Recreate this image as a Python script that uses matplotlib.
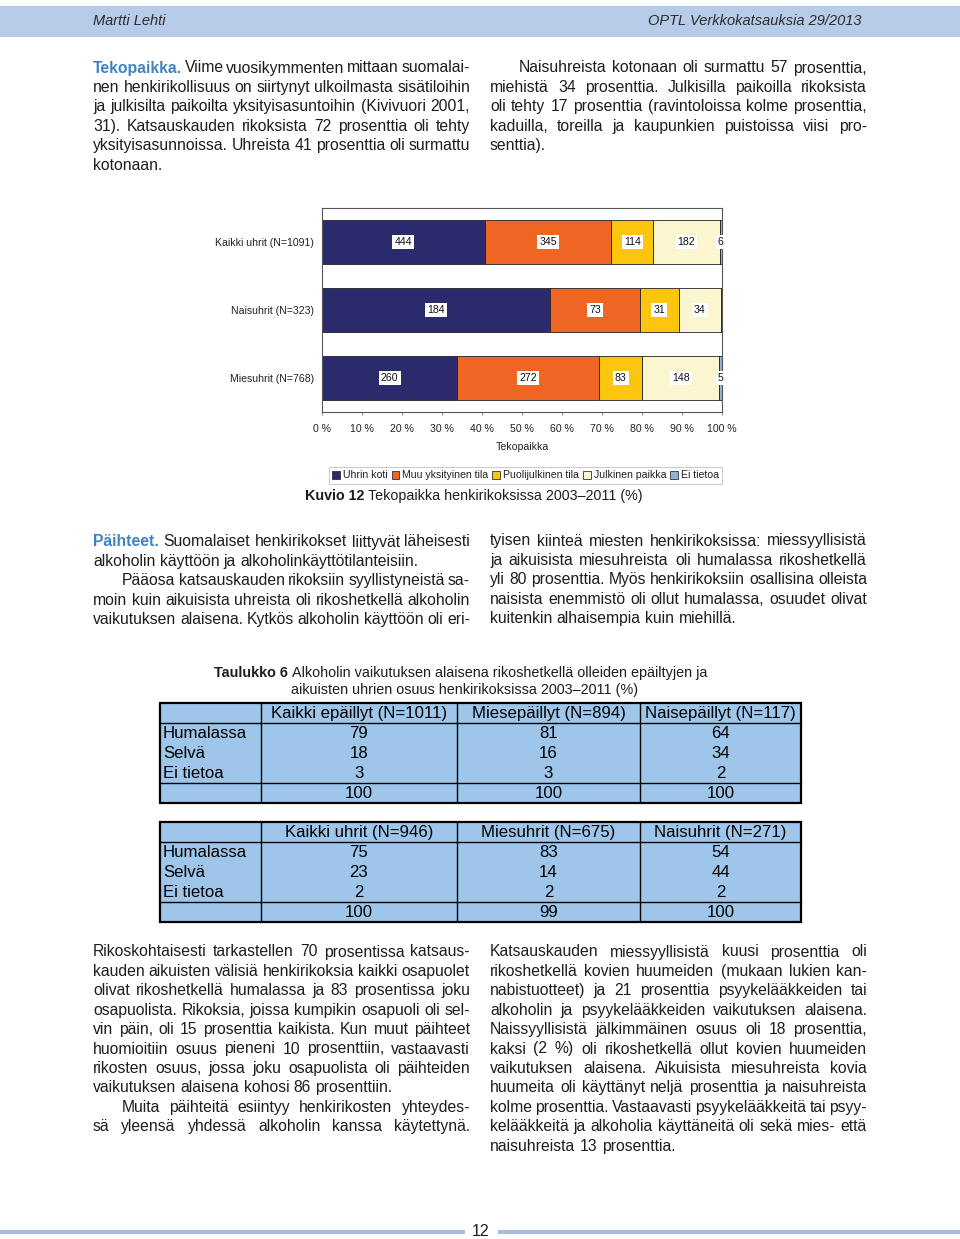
import matplotlib
matplotlib.use('Agg')
import matplotlib.pyplot as plt
import numpy as np
from matplotlib.patches import Rectangle, Patch

plt.rcParams['font.family'] = ['Liberation Sans', 'DejaVu Sans']

# ---- chart data (Kuvio 12) ----
groups = ['Kaikki uhrit (N=1091)', 'Naisuhrit (N=323)', 'Miesuhrit (N=768)']
places = ['Uhrin koti', 'Muu yksityinen tila', 'Puolijulkinen tila', 'Julkinen paikka', 'Ei tietoa']
uhrin_koti = [444, 184, 260]
muu_yksityinen = [345, 73, 272]
puolijulkinen = [114, 31, 83]
julkinen_paikka = [182, 34, 148]
ei_tietoa = [6, 1, 5]
place_colors = ['#2a2a6c', '#ef6524', '#fcc60e', '#fcf6d0', '#8fb3d9']
xticks = [0, 10, 20, 30, 40, 50, 60, 70, 80, 90, 100]

# ---- table data (Taulukko 6) ----
row_names = ['Humalassa', 'Selvä', 'Ei tietoa']
t1_cols = ['Kaikki epäillyt (N=1011)', 'Miesepäillyt (N=894)', 'Naisepäillyt (N=117)']
t1_humalassa = [79, 81, 64]
t1_selva = [18, 16, 34]
t1_ei_tietoa = [3, 3, 2]
t1_total = [100, 100, 100]
t2_cols = ['Kaikki uhrit (N=946)', 'Miesuhrit (N=675)', 'Naisuhrit (N=271)']
t2_humalassa = [75, 83, 54]
t2_selva = [23, 14, 44]
t2_ei_tietoa = [2, 2, 2]
t2_total = [100, 99, 100]

W, H = 960, 1239
TXT = '#1f1c1d'
HEAD_BLUE = '#3f83c4'

fig = plt.figure(figsize=(W / 100, H / 100), dpi=100)
page = fig.add_axes([0, 0, 1, 1])
page.set_xlim(0, W)
page.set_ylim(H, 0)
page.axis('off')
R = fig.canvas.get_renderer()


def width(t):
    return t.get_window_extent(renderer=R).width


def measure(s, **kw):
    t = page.text(0, 0, s, **kw)
    w = width(t)
    t.remove()
    return w


# header band
page.add_patch(Rectangle((0, 6), W, 31, fc='#b7cce8', ec='none'))
page.text(93, 21, 'Martti Lehti', fontsize=10.5, style='italic', color='#2b2b2b', va='center')
page.text(861, 21, 'OPTL Verkkokatsauksia 29/2013', fontsize=10.5, style='italic',
          color='#2b2b2b', va='center', ha='right')

# ---- body text, justified ----
BODY = 11.35
LEAD = 19.4
INDENT = 29
SPACE = measure('n n', fontsize=BODY) - measure('nn', fontsize=BODY)


def natural(words):
    lefts = []
    for j in range(len(words)):
        pre = measure(' '.join(words[:j + 1]), fontsize=BODY)
        lefts.append(pre - measure(words[j], fontsize=BODY))
    return lefts, measure(' '.join(words), fontsize=BODY)


def block(x0, x1, y0, paras):
    y = y0
    for lines, indent, head, last_just in paras:
        for i, line in enumerate(lines):
            words = line.split(' ')
            start = x0 + (INDENT if indent and i == 0 else 0)
            hw = 0
            if head and i == 0:
                ht = page.text(start, y, words[0], fontsize=BODY, weight='bold',
                               color=HEAD_BLUE, va='center', ha='left')
                hw = width(ht) + SPACE
                words = words[1:]
            lefts, total = natural(words)
            n_gaps = len(words) - 1 + (1 if hw else 0)
            ragged = (i == len(lines) - 1 and not last_just) or n_gaps < 1
            extra = 0 if ragged else (x1 - start - hw - total) / n_gaps
            k0 = 1 if hw else 0
            for j, wd in enumerate(words):
                page.text(start + hw + lefts[j] + (j + k0) * extra, y, wd, fontsize=BODY,
                          color=TXT, va='center', ha='left')
            y += LEAD


LX0, LX1, RX0, RX1 = 93, 470, 490, 867

block(LX0, LX1, 68, [
    (['Tekopaikka. Viime vuosikymmenten mittaan suomalai-',
      'nen henkirikollisuus on siirtynyt ulkoilmasta sisätiloihin',
      'ja julkisilta paikoilta yksityisasuntoihin (Kivivuori 2001,',
      '31). Katsauskauden rikoksista 72 prosenttia oli tehty',
      'yksityisasunnoissa. Uhreista 41 prosenttia oli surmattu',
      'kotonaan.'], False, True, False)])
block(RX0, RX1, 68, [
    (['Naisuhreista kotonaan oli surmattu 57 prosenttia,',
      'miehistä 34 prosenttia. Julkisilla paikoilla rikoksista',
      'oli tehty 17 prosenttia (ravintoloissa kolme prosenttia,',
      'kaduilla, toreilla ja kaupunkien puistoissa viisi pro-',
      'senttia).'], True, False, False)])
block(LX0, LX1, 542, [
    (['Päihteet. Suomalaiset henkirikokset liittyvät läheisesti',
      'alkoholin käyttöön ja alkoholinkäyttötilanteisiin.'], False, True, False),
    (['Pääosa katsauskauden rikoksiin syyllistyneistä sa-',
      'moin kuin aikuisista uhreista oli rikoshetkellä alkoholin',
      'vaikutuksen alaisena. Kytkös alkoholin käyttöön oli eri-'], True, False, True)])
block(RX0, RX1, 541, [
    (['tyisen kiinteä miesten henkirikoksissa: miessyyllisistä',
      'ja aikuisista miesuhreista oli humalassa rikoshetkellä',
      'yli 80 prosenttia. Myös henkirikoksiin osallisina olleista',
      'naisista enemmistö oli ollut humalassa, osuudet olivat',
      'kuitenkin alhaisempia kuin miehillä.'], False, False, False)])
block(LX0, LX1, 952, [
    (['Rikoskohtaisesti tarkastellen 70 prosentissa katsaus-',
      'kauden aikuisten välisiä henkirikoksia kaikki osapuolet',
      'olivat rikoshetkellä humalassa ja 83 prosentissa joku',
      'osapuolista. Rikoksia, joissa kumpikin osapuoli oli sel-',
      'vin päin, oli 15 prosenttia kaikista. Kun muut päihteet',
      'huomioitiin osuus pieneni 10 prosenttiin, vastaavasti',
      'rikosten osuus, jossa joku osapuolista oli päihteiden',
      'vaikutuksen alaisena kohosi 86 prosenttiin.'], False, False, False),
    (['Muita päihteitä esiintyy henkirikosten yhteydes-',
      'sä yleensä yhdessä alkoholin kanssa käytettynä.'], True, False, True)])
block(RX0, RX1, 952, [
    (['Katsauskauden miessyyllisistä kuusi prosenttia oli',
      'rikoshetkellä kovien huumeiden (mukaan lukien kan-',
      'nabistuotteet) ja 21 prosenttia psyykelääkkeiden tai',
      'alkoholin ja psyykelääkkeiden vaikutuksen alaisena.',
      'Naissyyllisistä jälkimmäinen osuus oli 18 prosenttia,',
      'kaksi (2 %) oli rikoshetkellä ollut kovien huumeiden',
      'vaikutuksen alaisena. Aikuisista miesuhreista kovia',
      'huumeita oli käyttänyt neljä prosenttia ja naisuhreista',
      'kolme prosenttia. Vastaavasti psyykelääkkeitä tai psyy-',
      'kelääkkeitä ja alkoholia käyttäneitä oli sekä mies- että',
      'naisuhreista 13 prosenttia.'], False, False, False)])

# ---- stacked percentage bar chart ----
ax = fig.add_axes([322 / W, 1 - 412 / H, 400 / W, 204 / H])
series = [uhrin_koti, muu_yksityinen, puolijulkinen, julkinen_paikka, ei_tietoa]
counts = np.array(series, dtype=float)
totals = counts.sum(axis=0)
pct = counts / totals * 100
ypos = np.arange(len(groups))
left = np.zeros(len(groups))
for k, name in enumerate(places):
    ax.barh(ypos, pct[k], left=left, height=0.65, color=place_colors[k],
            edgecolor='#222222', linewidth=0.6, label=name)
    for g in range(len(groups)):
        if series[k][g] > 1:
            ax.text(left[g] + pct[k][g] / 2, ypos[g], str(series[k][g]), fontsize=7.6,
                    ha='center', va='center', color='#111111',
                    bbox=dict(boxstyle='square,pad=0.2', fc='white', ec='none'))
    left += pct[k]

ax.set_xlim(0, 100)
ax.set_ylim(2.5, -0.5)
ax.set_yticks(ypos, groups, fontsize=7.6, color='#222222')
ax.set_xticks(xticks, [f'{v} %' for v in xticks], fontsize=7.6, color='#222222')
ax.tick_params(axis='y', length=0, pad=6)
ax.tick_params(axis='x', length=2.5, pad=6, color='#777777', width=0.6)
ax.set_xlabel('Tekopaikka', fontsize=7.6, color='#222222', labelpad=6)
for s in ax.spines.values():
    s.set_color('#555555')
    s.set_linewidth(0.8)

handles = [Patch(fc=c, ec='#333333', lw=0.6) for c in place_colors]
leg = fig.legend(handles, places, loc='center', bbox_to_anchor=(525.5 / W, 1 - 475.5 / H),
                 ncol=5, fontsize=7.6, handlelength=0.75, handleheight=0.75,
                 handletextpad=0.25, columnspacing=0.4, borderpad=0.3,
                 fancybox=False, framealpha=1)
leg.get_frame().set_edgecolor('#cccccc')
leg.get_frame().set_linewidth(0.8)
for t in leg.get_texts():
    t.set_color('#222222')


def rich(x, y, parts, size, ha='left'):
    objs = []
    for s, wt in parts:
        t = page.text(0, y, s, fontsize=size, weight=wt, color=TXT, va='center')
        objs.append((t, width(t)))
    sp = measure('n n', fontsize=size) - measure('nn', fontsize=size)
    total = sum(w for _, w in objs) + sp * (len(objs) - 1)
    if ha == 'center':
        x = x - total / 2
    for t, w in objs:
        t.set_x(x)
        x += w + sp


rich(305, 496, [('Kuvio 12', 'bold'), ('Tekopaikka henkirikoksissa 2003–2011 (%)', 'normal')], 10.3)

# ---- tables ----
rich(214, 673, [('Taulukko 6', 'bold'),
                ('Alkoholin vaikutuksen alaisena rikoshetkellä olleiden epäiltyjen ja', 'normal')], 10.4)
rich(465, 690, [('aikuisten uhrien osuus henkirikoksissa 2003–2011 (%)', 'normal')], 10.4, ha='center')

tsize = 13 * 176 / measure('Kaikki epäillyt (N=1011)', fontsize=13)
col_x = [160, 261, 457, 640, 801]
ROW = 20


def table(top, cols, rows):
    bottom = top + ROW * 5
    page.add_patch(Rectangle((col_x[0], top), col_x[-1] - col_x[0], ROW * 5,
                             fc='#9dc6ea', ec='none'))
    for xv in col_x[1:-1]:
        page.plot([xv, xv], [top, bottom], color='black', lw=1.0, solid_capstyle='butt')
    for yv in (top + ROW, top + ROW * 4):
        page.plot([col_x[0], col_x[-1]], [yv, yv], color='black', lw=1.0)
    page.add_patch(Rectangle((col_x[0], top), col_x[-1] - col_x[0], ROW * 5,
                             fc='none', ec='black', lw=1.6))
    for c, name in enumerate(cols):
        cx = (col_x[c + 1] + col_x[c + 2]) / 2
        page.text(cx, top + ROW / 2 + 0.5, name, fontsize=tsize,
                  ha='center', va='center', color='black')
    for r, vals in enumerate(rows):
        cy = top + ROW * (r + 1.5) + 0.5
        if r < len(row_names):
            page.text(col_x[0] + 3, cy, row_names[r], fontsize=tsize,
                      ha='left', va='center', color='black')
        for c, v in enumerate(vals):
            cx = (col_x[c + 1] + col_x[c + 2]) / 2
            page.text(cx, cy, str(v), fontsize=tsize,
                      ha='center', va='center', color='black')


table(703, t1_cols, [t1_humalassa, t1_selva, t1_ei_tietoa, t1_total])
table(822, t2_cols, [t2_humalassa, t2_selva, t2_ei_tietoa, t2_total])

# ---- footer ----
page.plot([0, 465], [1232, 1232], color='#a9bedb', lw=3, solid_capstyle='butt')
page.plot([498, W], [1232, 1232], color='#a9bedb', lw=3, solid_capstyle='butt')
page.text(481, 1232, '12', fontsize=11.5, ha='center', va='center', color=TXT)

fig.savefig('out.png', dpi=100)
